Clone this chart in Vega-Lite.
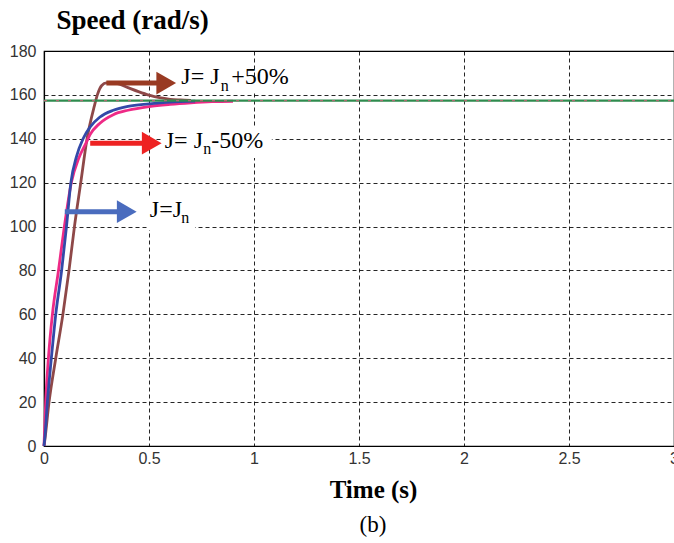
{
  "$schema": "https://vega.github.io/schema/vega-lite/v6.json",
  "autosize": {"type": "none"},
  "width": 630,
  "height": 395,
  "padding": {"left": 44, "top": 51, "right": 0, "bottom": 97},
  "background": "white",
  "title": {"text": "(b)", "orient": "bottom", "anchor": "middle", "dx": 14, "offset": 12, "font": "Liberation Serif", "fontSize": 23, "fontWeight": "normal", "color": "black"},
  "config": {
    "view": {"stroke": "black", "strokeWidth": 1.2},
    "axis": {
      "domainColor": "black", "domainWidth": 1.2,
      "gridColor": "black", "gridDash": [4, 3], "gridWidth": 1, "gridOpacity": 0.85,
      "ticks": false, "tickSize": 0,
      "labelFont": "Liberation Sans", "labelFontSize": 16, "labelColor": "#333333"
    }
  },
  "datasets": {
    "curves": [
      {"s": "brown", "t": 0, "v": 0}, {"s": "brown", "t": 0.003, "v": 2}, {"s": "brown", "t": 0.024, "v": 20},
      {"s": "brown", "t": 0.056, "v": 40}, {"s": "brown", "t": 0.09, "v": 60}, {"s": "brown", "t": 0.119, "v": 80},
      {"s": "brown", "t": 0.145, "v": 100}, {"s": "brown", "t": 0.175, "v": 120}, {"s": "brown", "t": 0.205, "v": 140},
      {"s": "brown", "t": 0.24, "v": 155}, {"s": "brown", "t": 0.254, "v": 160}, {"s": "brown", "t": 0.275, "v": 164.3},
      {"s": "brown", "t": 0.297, "v": 165.5}, {"s": "brown", "t": 0.345, "v": 165.3}, {"s": "brown", "t": 0.4, "v": 163.3},
      {"s": "brown", "t": 0.45, "v": 161.5}, {"s": "brown", "t": 0.5, "v": 159.9}, {"s": "brown", "t": 0.55, "v": 158.7},
      {"s": "brown", "t": 0.6, "v": 158}, {"s": "brown", "t": 0.65, "v": 157.7}, {"s": "brown", "t": 0.7, "v": 157.5},
      {"s": "pink", "t": 0, "v": 0}, {"s": "pink", "t": 0.008, "v": 20}, {"s": "pink", "t": 0.021, "v": 40},
      {"s": "pink", "t": 0.04, "v": 60}, {"s": "pink", "t": 0.069, "v": 80}, {"s": "pink", "t": 0.097, "v": 100},
      {"s": "pink", "t": 0.13, "v": 120}, {"s": "pink", "t": 0.165, "v": 131}, {"s": "pink", "t": 0.2, "v": 138},
      {"s": "pink", "t": 0.22, "v": 142}, {"s": "pink", "t": 0.265, "v": 147}, {"s": "pink", "t": 0.33, "v": 151},
      {"s": "pink", "t": 0.4, "v": 153}, {"s": "pink", "t": 0.5, "v": 154.7}, {"s": "pink", "t": 0.6, "v": 155.7},
      {"s": "pink", "t": 0.7, "v": 156.4}, {"s": "pink", "t": 0.8, "v": 156.9}, {"s": "pink", "t": 0.9, "v": 157.1},
      {"s": "blue", "t": 0, "v": 0}, {"s": "blue", "t": 0.005, "v": 5}, {"s": "blue", "t": 0.016, "v": 20},
      {"s": "blue", "t": 0.035, "v": 40}, {"s": "blue", "t": 0.056, "v": 60}, {"s": "blue", "t": 0.084, "v": 80},
      {"s": "blue", "t": 0.107, "v": 100}, {"s": "blue", "t": 0.128, "v": 120}, {"s": "blue", "t": 0.155, "v": 132},
      {"s": "blue", "t": 0.186, "v": 140}, {"s": "blue", "t": 0.219, "v": 145.3}, {"s": "blue", "t": 0.265, "v": 149.8},
      {"s": "blue", "t": 0.33, "v": 153}, {"s": "blue", "t": 0.4, "v": 154.8}, {"s": "blue", "t": 0.5, "v": 155.9},
      {"s": "blue", "t": 0.6, "v": 156.7}, {"s": "blue", "t": 0.72, "v": 157.2}
    ],
    "ref": [{"t": 0, "v": 157.4}, {"t": 3, "v": 157.4}],
    "boxes": [
      {"t1": 0.647, "t2": 1.18, "v1": 168.6, "v2": 161},
      {"t1": 0.56, "t2": 1.085, "v1": 145.4, "v2": 131.2},
      {"t1": 0.494, "t2": 0.719, "v1": 113, "v2": 98.4}
    ],
    "arrows": [
      {"s": "brown", "t1": 0.297, "t2": 0.565, "th": 0.582, "v": 165.4},
      {"s": "red", "t1": 0.22, "t2": 0.5, "th": 0.513, "v": 138},
      {"s": "blue", "t1": 0.099, "t2": 0.38, "th": 0.394, "v": 106.8}
    ],
    "labels": [
      {"part": "main", "t": 0.654, "v": 165.0, "txt": "J= J"},
      {"part": "sub", "t": 0.842, "v": 161.9, "txt": "n"},
      {"part": "main", "t": 0.892, "v": 165.0, "txt": "+50%"},
      {"part": "main", "t": 0.575, "v": 135.8, "txt": "J= J"},
      {"part": "sub", "t": 0.758, "v": 132.9, "txt": "n"},
      {"part": "main", "t": 0.797, "v": 135.8, "txt": "-50%"},
      {"part": "main", "t": 0.504, "v": 104.4, "txt": "J=J"},
      {"part": "sub", "t": 0.654, "v": 101.6, "txt": "n"}
    ]
  },
  "layer": [
    {
      "data": {"name": "boxes"},
      "mark": {"type": "rect", "fill": "white", "stroke": null},
      "encoding": {
        "x": {"field": "t1", "type": "quantitative", "scale": {"domain": [0, 3], "nice": false},
          "axis": {"values": [0, 0.5, 1, 1.5, 2, 2.5, 3], "format": "~g", "labelPadding": 4, "labelFlush": false,
            "title": "Time (s)", "titleFont": "Liberation Serif", "titleFontSize": 25, "titleFontWeight": "bold", "titleColor": "black",
            "titleX": 329, "titleY": 51, "titleAlign": "center", "titleBaseline": "alphabetic"}},
        "x2": {"field": "t2"},
        "y": {"field": "v1", "type": "quantitative", "scale": {"domain": [0, 180], "nice": false},
          "axis": {"values": [0, 20, 40, 60, 80, 100, 120, 140, 160, 180], "labelPadding": 8,
            "title": "Speed (rad/s)", "titleFont": "Liberation Serif", "titleFontSize": 27, "titleFontWeight": "bold", "titleColor": "black",
            "titleAngle": 0, "titleAlign": "left", "titleBaseline": "alphabetic", "titleX": 12, "titleY": -23}},
        "y2": {"field": "v2"}
      }
    },
    {
      "data": {"name": "curves"},
      "mark": {"type": "line", "strokeWidth": 2.8, "interpolate": "monotone"},
      "encoding": {
        "x": {"field": "t", "type": "quantitative"},
        "y": {"field": "v", "type": "quantitative"},
        "detail": {"field": "s"},
        "order": {"field": "t"},
        "color": {"field": "s", "type": "nominal", "legend": null,
          "scale": {"domain": ["brown", "pink", "blue"], "range": ["#8E4848", "#EE2A86", "#3349A8"]}}
      }
    },
    {
      "data": {"name": "ref"},
      "mark": {"type": "line", "color": "#2E8B4E", "strokeWidth": 2.4},
      "encoding": {"x": {"field": "t", "type": "quantitative"}, "y": {"field": "v", "type": "quantitative"}}
    },
    {
      "data": {"name": "ref"},
      "mark": {"type": "line", "color": "#D0607A", "strokeWidth": 1.2, "strokeDash": [3, 9], "opacity": 0.8},
      "encoding": {"x": {"field": "t", "type": "quantitative"}, "y": {"field": "v", "type": "quantitative"}}
    },
    {
      "data": {"name": "arrows"},
      "mark": {"type": "rule", "strokeWidth": 5},
      "encoding": {
        "x": {"field": "t1", "type": "quantitative"},
        "x2": {"field": "t2"},
        "y": {"field": "v", "type": "quantitative"},
        "color": {"field": "s", "type": "nominal", "scale": {"domain": ["brown", "red", "blue"], "range": ["#993A22", "#EE2222", "#4A6CBE"]}, "legend": null}
      }
    },
    {
      "data": {"name": "arrows"},
      "mark": {"type": "point", "shape": "triangle-right", "filled": true, "size": 520, "opacity": 1},
      "encoding": {
        "x": {"field": "th", "type": "quantitative"},
        "y": {"field": "v", "type": "quantitative"},
        "color": {"field": "s", "type": "nominal", "scale": {"domain": ["brown", "red", "blue"], "range": ["#993A22", "#EE2222", "#4A6CBE"]}, "legend": null}
      }
    },
    {
      "data": {"name": "labels"},
      "transform": [{"filter": "datum.part === 'main'"}],
      "mark": {"type": "text", "font": "Liberation Serif", "fontSize": 24, "align": "left", "baseline": "alphabetic", "color": "black"},
      "encoding": {
        "x": {"field": "t", "type": "quantitative"},
        "y": {"field": "v", "type": "quantitative"},
        "text": {"field": "txt"}
      }
    },
    {
      "data": {"name": "labels"},
      "transform": [{"filter": "datum.part === 'sub'"}],
      "mark": {"type": "text", "font": "Liberation Serif", "fontSize": 16, "align": "left", "baseline": "alphabetic", "color": "black"},
      "encoding": {
        "x": {"field": "t", "type": "quantitative"},
        "y": {"field": "v", "type": "quantitative"},
        "text": {"field": "txt"}
      }
    }
  ],
  "resolve": {"scale": {"color": "independent"}}
}
